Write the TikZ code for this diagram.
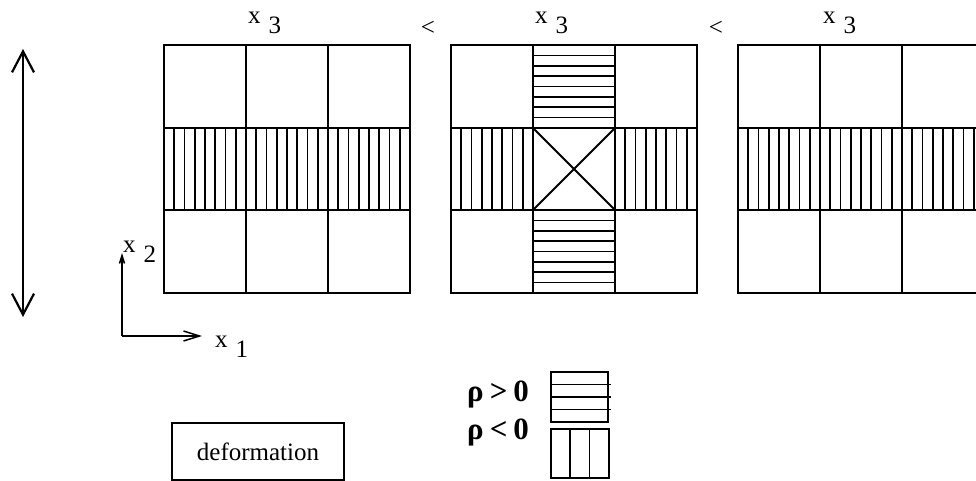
\documentclass[tikz,border=0pt]{standalone}
\usepackage{fontspec}
\setmainfont{Liberation Serif}
\usetikzlibrary{arrows.meta}
\def\subx#1#2{#1\hspace{8pt}\raisebox{-10pt}{#2}}
\def\gridsq(#1,#2){%
	\draw[frame] (#1,#2) rectangle ++(246,248);
	\draw[frame] (#1,#2+83) -- ++(246,0);
	\draw[frame] (#1,#2+165) -- ++(246,0);
	\draw[frame] (#1+82,#2) -- ++(0,248);
	\draw[frame] (#1+164,#2) -- ++(0,248);}
\tikzset{
	frame/.style={line width=2pt},
	hatch/.style={line width=1.7pt},
	lbl/.style={font=\fontsize{25}{30}\selectfont, inner sep=0pt},
	rholbl/.style={font=\fontsize{31}{36}\selectfont\bfseries, inner sep=0pt, anchor=base west},
	bigbarb/.style={line width=2.2pt, {Straight Barb[length=21pt,width=22pt]}-{Straight Barb[length=21pt,width=22pt]}}
}

\begin{document}
\begin{tikzpicture}[x=1pt,y=-1pt]
			%%%%% START %%%%%
			\useasboundingbox (0,0) rectangle (976,481);
			\clip (0,0) rectangle (976,481);
			
			\coordinate (uptip) at (23,49);
			\coordinate (downtip) at (23,317);
			\draw[bigbarb] (uptip) -- (downtip);
			
			\gridsq(164,45);
			\foreach \i in {1,...,23} \draw[hatch] (164+\i*10.25,128) -- ++(0,82);
			
			\gridsq(451,45);
			\foreach \i in {1,...,7} \draw[hatch] (451+\i*10.25,128) -- ++(0,82);
			\foreach \i in {1,...,7} \draw[hatch] (615+\i*10.25,128) -- ++(0,82);
			\foreach \j in {1,...,7} \draw[hatch] (533,45+\j*10.375) -- ++(82,0);
			\foreach \j in {1,...,7} \draw[hatch] (533,210+\j*10.375) -- ++(82,0);
			\draw[frame] (533,128) -- (615,210) (533,210) -- (615,128);
			
			\gridsq(738,45);
			\foreach \i in {1,...,23} \draw[hatch] (738+\i*10.25,128) -- ++(0,82);
			
			\node[lbl, anchor=base west] (xa) at (248,24) {\subx{x}{3}};
			\node[lbl, anchor=base west] (xb) at (535,24) {\subx{x}{3}};
			\node[lbl, anchor=base west] (xc) at (823,24) {\subx{x}{3}};
			\node[lbl] (lessa) at (428,28) {<};
			\node[lbl] (lessb) at (716,28) {<};
			
			\coordinate (orig) at (122,336);
			\coordinate (xone) at (202,336);
			\coordinate (xtwo) at (122,253);
			\draw[line width=1.5pt, -{Straight Barb[length=16pt,width=10pt]}] (orig) -- (xone);
			\draw[line width=1.5pt, -{Straight Barb[length=8pt,width=5pt]}] (orig) -- (xtwo);
			\node[lbl, anchor=base west] (lblx2) at (123,252) {\subx{x}{2}};
			\node[lbl, anchor=base west] (lblx1) at (215,347) {\subx{x}{1}};
			
			\node[lbl, draw, line width=1.6pt, minimum width=172pt, minimum height=57pt] (deform) at (258,451.5) {deformation};
			
			\node[rholbl] (pos) at (467,401) {ρ\hspace{6pt}>\hspace{6pt}0};
			\node[rholbl] (neg) at (467,439) {ρ\hspace{6pt}<\hspace{6pt}0};
			\draw[frame] (551,372) rectangle (608,422);
			\foreach \j in {1,2,3} \draw[hatch] (551,372+\j*12.5) -- ++(60,0);
			\draw[frame] (551,429) rectangle (609,478);
			\foreach \i in {1,2} \draw[hatch] (551+\i*19.3,429) -- ++(0,49);
			
			%%%%% END %%%%%
\end{tikzpicture}
\end{document}
